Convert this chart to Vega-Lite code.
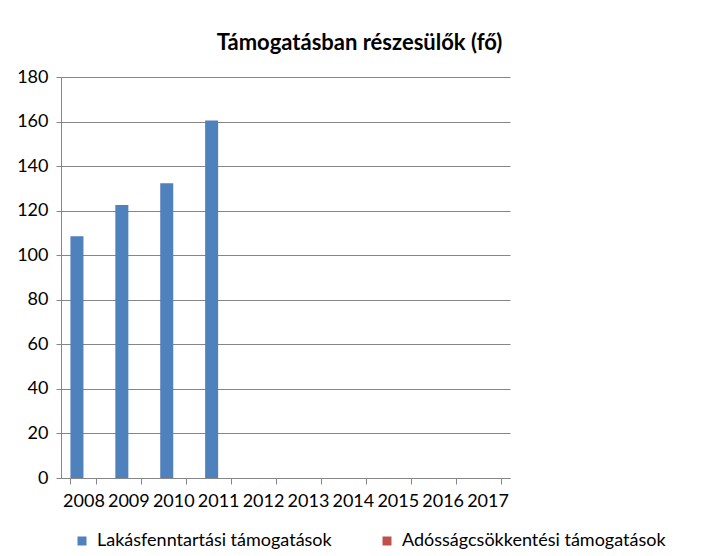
{
  "$schema": "https://vega.github.io/schema/vega-lite/v6.json",
  "autosize": {"type": "none"},
  "width": 449,
  "height": 401,
  "padding": {"left": 61, "top": 77, "right": 197, "bottom": 78},
  "background": "white",
  "config": {
    "view": {"stroke": null},
    "font": "Lato",
    "axis": {"labelFont": "Lato", "labelFontSize": 18, "labelColor": "#000000", "domainColor": "#868686", "tickColor": "#868686", "gridColor": "#868686"}
  },
  "title": {
    "text": "Támogatásban részesülők (fő)",
    "font": "Lato",
    "fontSize": 22,
    "fontWeight": "bold",
    "color": "#000000",
    "anchor": "middle",
    "dx": 74,
    "offset": 13
  },
  "data": {
    "values": [
      {"year": "2008", "series": "Lakásfenntartási támogatások", "value": 108.5},
      {"year": "2009", "series": "Lakásfenntartási támogatások", "value": 122.5},
      {"year": "2010", "series": "Lakásfenntartási támogatások", "value": 132.3},
      {"year": "2011", "series": "Lakásfenntartási támogatások", "value": 160.5},
      {"year": "2008", "series": "Adósságcsökkentési támogatások", "value": null},
      {"year": "2009", "series": "Adósságcsökkentési támogatások", "value": null},
      {"year": "2010", "series": "Adósságcsökkentési támogatások", "value": null},
      {"year": "2011", "series": "Adósságcsökkentési támogatások", "value": null}
    ]
  },
  "mark": {"type": "bar"},
  "encoding": {
    "x": {
      "field": "year",
      "type": "nominal",
      "scale": {"domain": ["2008","2009","2010","2011","2012","2013","2014","2015","2016","2017"], "paddingInner": 0.42, "paddingOuter": 0.21},
      "axis": {"title": null, "labelAngle": 0, "labelPadding": 8, "tickBand": "extent", "tickSize": 6, "domainWidth": 1}
    },
    "xOffset": {"field": "series", "type": "nominal", "scale": {"domain": ["Lakásfenntartási támogatások", "Adósságcsökkentési támogatások"]}},
    "y": {
      "field": "value",
      "type": "quantitative",
      "scale": {"domain": [0, 180], "nice": false},
      "axis": {"title": null, "values": [0,20,40,60,80,100,120,140,160,180], "tickSize": 5, "labelPadding": 8, "grid": true, "gridWidth": 1, "domain": true}
    },
    "color": {
      "field": "series",
      "type": "nominal",
      "scale": {"domain": ["Lakásfenntartási támogatások", "Adósságcsökkentési támogatások"], "range": ["#4F81BD", "#C0504D"]},
      "legend": {
        "title": null,
        "orient": "none",
        "legendX": 12,
        "legendY": 455,
        "direction": "horizontal",
        "columns": 2,
        "symbolType": "square",
        "symbolSize": 81,
        "symbolStrokeWidth": 0,
        "labelFont": "Lato",
        "labelFontSize": 18,
        "labelColor": "#000000",
        "labelLimit": 400,
        "labelOffset": 6,
        "columnPadding": 46
      }
    }
  }
}
